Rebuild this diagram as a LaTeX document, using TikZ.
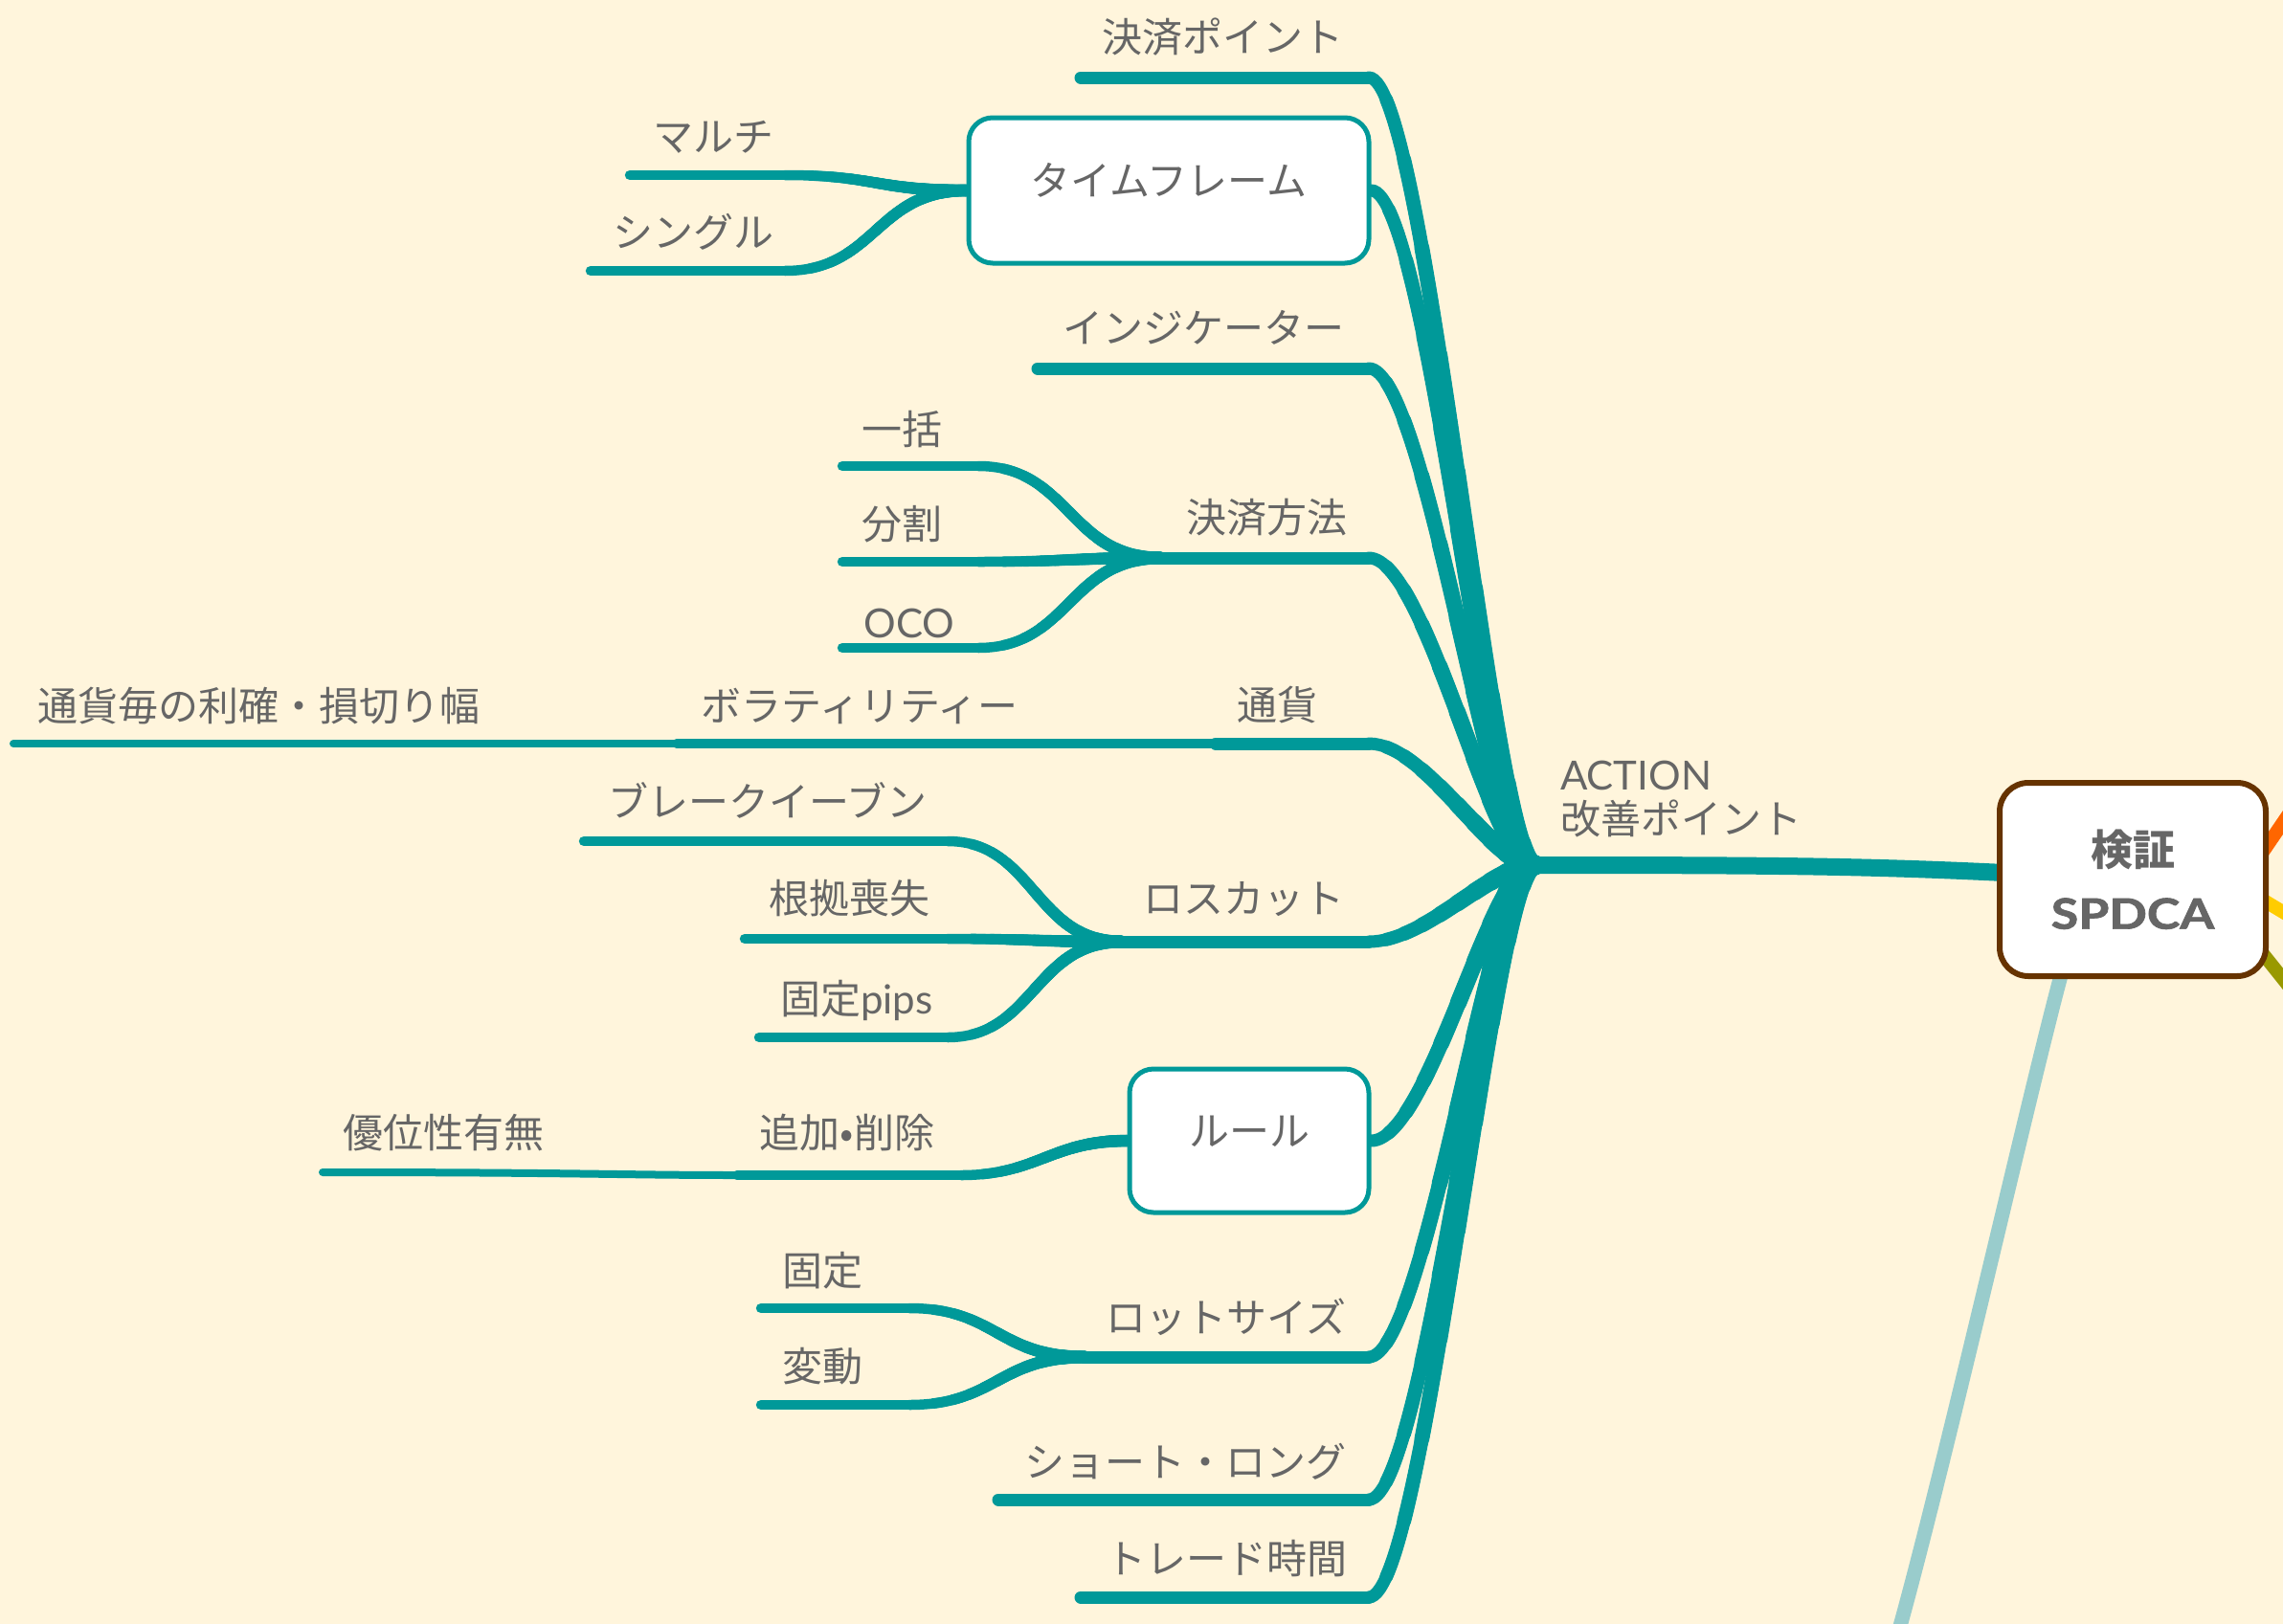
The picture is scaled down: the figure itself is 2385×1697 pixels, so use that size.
\documentclass[tikz,border=0pt]{standalone}
\usepackage{fontspec}
\usepackage{graphicx}
\setmainfont{Noto Sans CJK JP}
\newfontfamily\lat{Lato}
\newfontfamily\latbf[FakeBold=1.5]{Lato}
\definecolor{cream}{HTML}{FFF5DC}
\definecolor{teal1}{HTML}{009999}
\definecolor{lteal}{HTML}{99CCCC}
\definecolor{txt}{HTML}{666666}
\definecolor{brn}{HTML}{663300}
\definecolor{org}{HTML}{FF6600}
\definecolor{ylw}{HTML}{FFCC00}
\definecolor{olv}{HTML}{999900}
\pgfdeclarelayer{bg}
\pgfdeclarelayer{lines}
\pgfsetlayers{bg,lines,main}
% tapered branch: #1 start coord, #2 dx of 1st control, #3 end coord, #4 dx of 2nd control, #5 start width, #6 end width
\newcommand\tbranch[6]{%
  \begin{pgfscope}%
  \pgfsetstrokecolor{teal1}%
  \pgfsetroundcap
  \foreach \k in {0,...,9}{%
    \pgfmathsetmacro\tpt{\k/10}%
    \pgfmathsetmacro\tpw{#5+(#6-#5)*\k/9}%
    \pgfsetlinewidth{\tpw pt}%
    \pgfpathcurvebetweentime{\tpt}{1}%
      {\pgfpointanchor{#1}{center}}%
      {\pgfpointadd{\pgfpointanchor{#1}{center}}{\pgfpoint{#2pt}{0pt}}}%
      {\pgfpointadd{\pgfpointanchor{#3}{center}}{\pgfpoint{#4pt}{0pt}}}%
      {\pgfpointanchor{#3}{center}}%
    \pgfusepath{stroke}%
  }%
  \end{pgfscope}}
\begin{document}
\begin{tikzpicture}[x=1pt,y=-1pt,
  lbl/.style={text=txt, font=\fontsize{42}{50}\selectfont, inner sep=0pt, text height=32pt, text depth=0pt},
  tbox/.style={draw=teal1, line width=5pt, fill=white, rounded corners=25pt, text=txt,
     font=\fontsize{42}{50}\selectfont, inner sep=0pt, text height=36pt, text depth=26pt},
  rbox/.style={draw=brn, line width=6pt, fill=white, rounded corners=30pt, text=txt,
     font=\fontsize{44}{70}\selectfont\bfseries, align=center, inner sep=0pt,
     minimum width=278pt, minimum height=202pt},
  l1/.style={draw=teal1, line width=13pt, line cap=round},
  l2/.style={draw=teal1, line width=10.5pt, line cap=round},
  l3/.style={draw=teal1, line width=8pt, line cap=round},
  mainl/.style={draw=teal1, line width=18pt, line cap=round},
  stub/.style={line width=14pt}
]
\useasboundingbox (0,0) rectangle (2385,1697);
\begin{pgfonlayer}{bg}
  \fill[cream] (0,0) rectangle (2385,1697);
\end{pgfonlayer}

% ---------- nodes ----------
\node[rbox] (root) at (2228,919) {検証\\[-4pt]{\latbf\scalebox{1.18}[1]{SPDCA}}};
\node[text=txt, font=\fontsize{42}{46}\selectfont, inner sep=0pt, align=left, anchor=west] (act) at (1630,835) {{\lat ACTION}\\改善ポイント};

\coordinate (hub) at (1603,904);
\coordinate (rootW) at (2094,912);
\coordinate (ltS) at (2155,1012);
\coordinate (ltE) at (1982,1710);
\coordinate (orS) at (2330,940); \coordinate (orE) at (2405,830);
\coordinate (ywS) at (2330,920); \coordinate (ywE) at (2405,965);
\coordinate (ovS) at (2330,954); \coordinate (ovE) at (2405,1048);

% level 1
\node[lbl] (kp) at (1277,38) {決済ポイント};
\coordinate (kpL) at (1129,81); \coordinate (kpR) at (1430,81);
\node[tbox, minimum width=418pt, minimum height=152pt] (tf) at (1221,199) {タイムフレーム};
\coordinate (tfE) at (tf.east); \coordinate (tfW) at (tf.west);
\node[lbl] (in) at (1257,342) {インジケーター};
\coordinate (inL) at (1084,385); \coordinate (inR) at (1430,385);
\node[lbl] (km) at (1323,540) {決済方法};
\coordinate (kmL) at (1212,583); \coordinate (kmR) at (1430,583);
\node[lbl] (ts) at (1334,736) {通貨};
\coordinate (tsL) at (1270,777); \coordinate (tsR) at (1430,777);
\node[lbl] (lc) at (1299,938) {ロスカット};
\coordinate (lcL) at (1171,984); \coordinate (lcR) at (1430,984);
\node[tbox, minimum width=250pt, minimum height=150pt] (ru) at (1305,1192) {ルール};
\coordinate (ruE) at (ru.east); \coordinate (ruW) at (ru.west);
\node[lbl] (ls) at (1281,1376) {ロットサイズ};
\coordinate (lsL) at (1133,1418); \coordinate (lsR) at (1430,1418);
\node[lbl] (sl) at (1238,1527) {ショート・ロング};
\coordinate (slL) at (1043,1567); \coordinate (slR) at (1430,1567);
\node[lbl] (td) at (1281,1628) {トレード時間};
\coordinate (tdL) at (1129,1669); \coordinate (tdR) at (1430,1669);

% level 2 / 3
\node[lbl] (mc) at (745,142) {マルチ};
\coordinate (mcL) at (658,183); \coordinate (mcR) at (820,183);
\node[lbl] (sg) at (724,242) {シングル};
\coordinate (sgL) at (617,283); \coordinate (sgR) at (820,283);
\node[lbl] (ik) at (942,448) {一括};
\coordinate (ikL) at (880,487); \coordinate (ikR) at (1022,487);
\node[lbl] (bk) at (942,547) {分割};
\coordinate (bkL) at (880,587); \coordinate (bkR) at (1022,587);
\node[lbl] (oc) at (950,650) {\lat OCO};
\coordinate (ocL) at (880,677); \coordinate (ocR) at (1022,677);
\node[lbl] (vl) at (898,737) {ボラティリティー};
\coordinate (vlL) at (707,777);
\node[lbl] (tc) at (270,737) {通貨毎の利確・損切り幅};
\coordinate (tcL) at (14,777);
\node[lbl] (be) at (802,837) {ブレークイーブン};
\coordinate (beL) at (610,879); \coordinate (beR) at (990,879);
\node[lbl] (kk) at (887,938) {根拠喪失};
\coordinate (kkL) at (778,981); \coordinate (kkR) at (990,981);
\node[lbl] (fp) at (895,1043) {固定{\lat pips}};
\coordinate (fpL) at (793,1084); \coordinate (fpR) at (990,1084);
\node[lbl] (ad) at (885,1183) {追加•削除};
\coordinate (adL) at (770,1228); \coordinate (adR) at (1004,1228);
\node[lbl] (yu) at (463,1183) {優位性有無};
\coordinate (yuL) at (337,1225);
\node[lbl] (kt) at (859,1327) {固定};
\coordinate (ktL) at (795,1367); \coordinate (ktR) at (950,1367);
\node[lbl] (hd) at (859,1427) {変動};
\coordinate (hdL) at (795,1468); \coordinate (hdR) at (950,1468);

% ---------- connectors ----------
\begin{pgfonlayer}{lines}
  \draw[stub, org] (orS) -- (orE);
  \draw[stub, ylw] (ywS) -- (ywE);
  \draw[stub, olv] (ovS) -- (ovE);
  \draw[lteal, line width=15pt] (ltS) .. controls (2125,1120) and (2030,1540) .. (ltE);
  \draw[mainl] (hub) .. controls (1850,904) and (1950,905) .. (rootW);

  % level 1 underlines
  \draw[l1] (kpL) -- (kpR);
  \draw[l1] (inL) -- (inR);
  \draw[l1] (kmL) -- (kmR);
  \draw[l1] (tsL) -- (tsR);
  \draw[l1] (lcL) -- (lcR);
  \draw[l1] (lsL) -- (lsR);
  \draw[l1] (slL) -- (slR);
  \draw[l1] (tdL) -- (tdR);
  % level 1 curves to hub
  \tbranch{kpR}{60}{hub}{-45}{13}{21}
  \tbranch{tfE}{60}{hub}{-45}{13}{21}
  \tbranch{inR}{60}{hub}{-45}{13}{21}
  \tbranch{kmR}{60}{hub}{-45}{13}{21}
  \tbranch{tsR}{60}{hub}{-45}{13}{21}
  \tbranch{lcR}{60}{hub}{-45}{13}{21}
  \tbranch{ruE}{60}{hub}{-45}{13}{21}
  \tbranch{lsR}{60}{hub}{-45}{13}{21}
  \tbranch{slR}{60}{hub}{-45}{13}{21}
  \tbranch{tdR}{60}{hub}{-45}{13}{21}

  % level 2
  \draw[l2] (mcL) -- (mcR);
  \draw[l2] (sgL) -- (sgR);
  \tbranch{mcR}{95}{tfW}{-95}{10.5}{12.5}
  \tbranch{sgR}{95}{tfW}{-95}{10.5}{12.5}
  \draw[l2] (ikL) -- (ikR);
  \draw[l2] (bkL) -- (bkR);
  \draw[l2] (ocL) -- (ocR);
  \tbranch{ikR}{95}{kmL}{-95}{10.5}{13}
  \tbranch{bkR}{95}{kmL}{-95}{10.5}{13}
  \tbranch{ocR}{95}{kmL}{-95}{10.5}{13}
  \draw[l2] (vlL) -- (tsL);
  \draw[l3] (tcL) -- (vlL);
  \draw[l2] (beL) -- (beR);
  \draw[l2] (kkL) -- (kkR);
  \draw[l2] (fpL) -- (fpR);
  \tbranch{beR}{90}{lcL}{-90}{10.5}{13}
  \tbranch{kkR}{90}{lcL}{-90}{10.5}{13}
  \tbranch{fpR}{90}{lcL}{-90}{10.5}{13}
  \draw[l2] (adL) -- (adR);
  \tbranch{adR}{80}{ruW}{-80}{10.5}{12.5}
  \draw[l3] (yuL) .. controls (600,1225) and (650,1228) .. (adL);
  \draw[l2] (ktL) -- (ktR);
  \draw[l2] (hdL) -- (hdR);
  \tbranch{ktR}{90}{lsL}{-90}{10.5}{13}
  \tbranch{hdR}{90}{lsL}{-90}{10.5}{13}
\end{pgfonlayer}
\end{tikzpicture}
\end{document}
